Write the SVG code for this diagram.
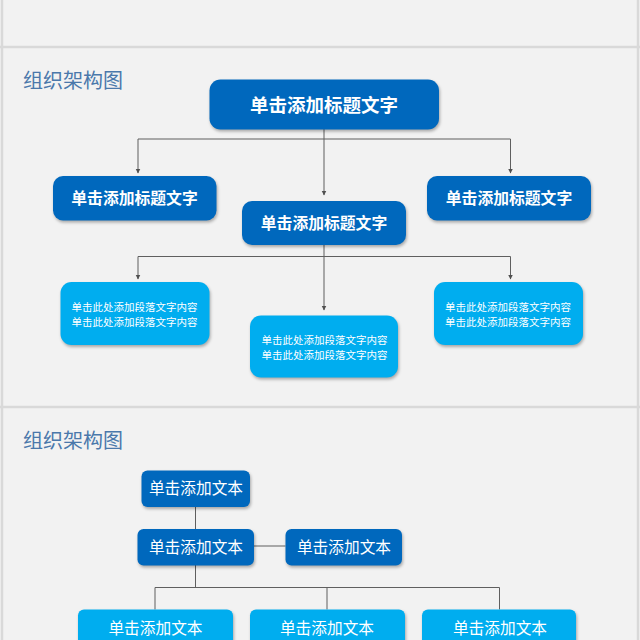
<svg xmlns="http://www.w3.org/2000/svg" width="640" height="640" viewBox="0 0 640 640">
<style>
text{text-anchor:middle;fill:#fff;font-family:"Liberation Sans","Noto Sans CJK SC",sans-serif}
.title{font-size:20px;fill:#4a78ab;text-anchor:start}
.t1{font-size:18.500px;font-weight:700}
.t2{font-size:15.800px;font-weight:700}
.p{font-size:10.500px}
.b{font-size:15.700px}
.dark{fill:#0068bd;filter:url(#s)}
.light{fill:#00adef;filter:url(#s)}
.c{fill:none;stroke:#5f5f5f;stroke-width:1}
.divider{fill:none;stroke:#d9d9d9;stroke-width:2.500}
</style>
<defs>
<filter id="s" x="-10%" y="-15%" width="125%" height="140%" color-interpolation-filters="sRGB"><feDropShadow dx="1" dy="2" stdDeviation="1.800" flood-color="#000" flood-opacity="0.300"/></filter>
<marker id="a" markerWidth="6" markerHeight="6" refX="4.500" refY="2.500" orient="auto" markerUnits="userSpaceOnUse"><path d="M0 0L5 2.500L0 5z" fill="#505050"/></marker>
</defs>
<rect width="640" height="640" fill="#f2f2f2"/>
<path class="divider" d="M2 0V640M638 0V640M0 47H640M0 407H640"/>
<text class="title" x="23" y="88">组织架构图</text>
<text class="title" x="23" y="448">组织架构图</text>
<g id="connectors">
<path class="c" marker-end="url(#a)" d="M324 139H138V173"/>
<path class="c" marker-end="url(#a)" d="M324 139H510.500V173"/>
<path class="c" marker-end="url(#a)" d="M324 129V195"/>
<path class="c" marker-end="url(#a)" d="M324 256.500H138V279"/>
<path class="c" marker-end="url(#a)" d="M324 256.500H510.500V279"/>
<path class="c" marker-end="url(#a)" d="M324 245V310"/>
<path class="c" d="M195.500 507V529M195.500 565V587.500M155 609.500V587.500H499.500V609.500M327 587.500V609.500M254 546H285.500"/>
</g>
<g id="n1"><rect class="dark" x="209.500" y="79.500" width="229.500" height="50" rx="11"/><text class="t1" x="324" y="112">单击添加标题文字</text></g>
<g id="n2"><rect class="dark" x="53" y="176" width="163.500" height="44.500" rx="10"/><text class="t2" x="134.500" y="204">单击添加标题文字</text></g>
<g id="n3"><rect class="dark" x="427" y="176" width="164" height="44.500" rx="10"/><text class="t2" x="509" y="204">单击添加标题文字</text></g>
<g id="n4"><rect class="dark" x="242" y="201" width="164" height="44" rx="10"/><text class="t2" x="324" y="229">单击添加标题文字</text></g>
<g id="n5"><rect class="light" x="60.500" y="282" width="149" height="63" rx="11"/><text class="p" x="134.500" y="311">单击此处添加段落文字内容</text><text class="p" x="134.500" y="326">单击此处添加段落文字内容</text></g>
<g id="n6"><rect class="light" x="250" y="315.500" width="148" height="62" rx="11"/><text class="p" x="324.500" y="344">单击此处添加段落文字内容</text><text class="p" x="324.500" y="359">单击此处添加段落文字内容</text></g>
<g id="n7"><rect class="light" x="434" y="282" width="149" height="63" rx="11"/><text class="p" x="508" y="311">单击此处添加段落文字内容</text><text class="p" x="508" y="326">单击此处添加段落文字内容</text></g>
<g id="n8"><rect class="dark" x="141.500" y="470.500" width="108.500" height="36.500" rx="6"/><text class="b" x="196" y="494">单击添加文本</text></g>
<g id="n9"><rect class="dark" x="137.500" y="529" width="116.500" height="36.500" rx="6"/><text class="b" x="196" y="553">单击添加文本</text></g>
<g id="n10"><rect class="dark" x="285.500" y="529" width="116.500" height="36.500" rx="6"/><text class="b" x="344" y="553">单击添加文本</text></g>
<g id="n11"><rect class="light" x="78" y="609.500" width="155" height="50" rx="6"/><text class="b" x="155.500" y="634">单击添加文本</text></g>
<g id="n12"><rect class="light" x="250" y="609.500" width="155" height="50" rx="6"/><text class="b" x="327" y="634">单击添加文本</text></g>
<g id="n13"><rect class="light" x="422" y="609.500" width="154" height="50" rx="6"/><text class="b" x="500" y="634">单击添加文本</text></g>
</svg>
